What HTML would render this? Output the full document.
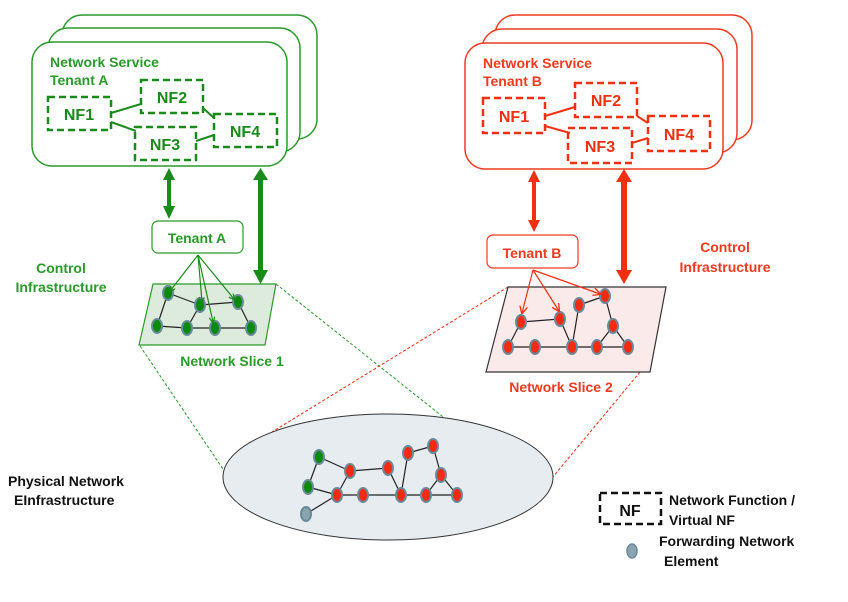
<!DOCTYPE html>
<html><head><meta charset="utf-8"><style>
html,body{margin:0;padding:0;background:#fff;}
svg{display:block;}
text{font-family:"Liberation Sans",Arial,sans-serif;font-weight:bold;}
</style></head><body>
<svg width="848" height="602" viewBox="0 0 848 602" xmlns="http://www.w3.org/2000/svg">
<defs>
<marker id="ga" markerWidth="6" markerHeight="6" refX="5" refY="3" orient="auto" markerUnits="userSpaceOnUse"><path d="M0,0 L6,3 L0,6" fill="none" stroke="#1a8a1a" stroke-width="1.3"/></marker>
<marker id="ra" markerWidth="8" markerHeight="8" refX="7" refY="4" orient="auto" markerUnits="userSpaceOnUse"><path d="M0,0 L8,4 L0,8" fill="none" stroke="#f03010" stroke-width="1.3"/></marker>
</defs>

<!-- Green tenant stacks -->
<g fill="#fff" stroke="#2a9a2a" stroke-width="1.5">
<rect x="62" y="15" width="255" height="124" rx="20"/>
<rect x="48" y="28" width="252" height="124" rx="20"/>
<rect x="32" y="42" width="255" height="124" rx="20"/>
</g>
<text x="50" y="67" font-size="14" fill="#2a9a2a">Network Service</text>
<text x="50" y="85" font-size="14" fill="#2a9a2a">Tenant A</text>
<g fill="none" stroke="#1a8a1a" stroke-width="2.5" stroke-dasharray="7,4">
<rect x="48" y="97" width="63" height="33"/>
<rect x="141" y="80" width="62" height="33"/>
<rect x="135" y="127" width="61" height="33"/>
<rect x="214" y="114" width="63" height="33"/>
</g>
<g stroke="#1a8a1a" stroke-width="2">
<line x1="111" y1="113" x2="141" y2="104"/><line x1="111" y1="122" x2="136" y2="131"/>
<line x1="203" y1="108" x2="214" y2="118"/><line x1="196" y1="141" x2="214" y2="135"/>
</g>
<g font-size="16" fill="#1a8a1a" text-anchor="middle">
<text x="79" y="120">NF1</text><text x="172" y="103">NF2</text><text x="165" y="150">NF3</text><text x="245" y="137">NF4</text>
</g>

<!-- Red tenant stacks -->
<g fill="#fff" stroke="#f03a20" stroke-width="1.5">
<rect x="495" y="15" width="257" height="125" rx="20"/>
<rect x="482" y="29" width="255" height="124" rx="20"/>
<rect x="465" y="43" width="258" height="126" rx="20"/>
</g>
<text x="483" y="68" font-size="14" fill="#f03a20">Network Service</text>
<text x="483" y="86" font-size="14" fill="#f03a20">Tenant B</text>
<g fill="none" stroke="#f03010" stroke-width="2.5" stroke-dasharray="7,4">
<rect x="483" y="98" width="62" height="35"/>
<rect x="575" y="83" width="62" height="34"/>
<rect x="568" y="128" width="64" height="35"/>
<rect x="648" y="116" width="62" height="35"/>
</g>
<g stroke="#f03010" stroke-width="2">
<line x1="545" y1="116" x2="575" y2="107"/><line x1="545" y1="126" x2="570" y2="133"/>
<line x1="637" y1="116" x2="648" y2="123"/><line x1="632" y1="143" x2="648" y2="138"/>
</g>
<g font-size="16" fill="#f03010" text-anchor="middle">
<text x="514" y="122">NF1</text><text x="606" y="106">NF2</text><text x="600" y="152">NF3</text><text x="679" y="140">NF4</text>
</g>

<!-- Double arrows -->
<g fill="#1a8a1a">
<rect x="167" y="178" width="4" height="30"/><path d="M163,180 L169,168 L175,180Z"/><path d="M163,206 L169,219 L175,206Z"/>
<rect x="258" y="178" width="5" height="95"/><path d="M253,180 L260.5,168 L268,180Z"/><path d="M253,270 L260.5,284 L268,270Z"/>
</g>
<g fill="#f03010">
<rect x="532" y="180" width="4" height="42"/><path d="M528,182 L534,170 L540,182Z"/><path d="M528,220 L534,232 L540,220Z"/>
<rect x="621" y="180" width="6" height="92"/><path d="M616,182 L624,169 L632,182Z"/><path d="M616,270 L624,284 L632,270Z"/>
</g>

<!-- Dashed zoom lines -->
<g stroke-width="1" stroke-dasharray="3,2" fill="none">
<line x1="140" y1="346" x2="229" y2="478" stroke="#2a9a2a"/>
<line x1="276" y1="284" x2="462" y2="432" stroke="#2a9a2a"/>
<line x1="508" y1="287" x2="272" y2="432" stroke="#f03010"/>
<line x1="640" y1="372" x2="552" y2="478" stroke="#f03010"/>
</g>

<!-- Slice 1 -->
<path d="M153,284 L276,284 L265,345 L139,345Z" fill="#dcebdc" stroke="#2a9a2a" stroke-width="1.2"/>
<g stroke="#222" stroke-width="1.2">
<line x1="168" y1="293" x2="200" y2="305"/><line x1="168" y1="293" x2="157" y2="326"/>
<line x1="200" y1="305" x2="238" y2="302"/><line x1="200" y1="305" x2="187" y2="328"/>
<line x1="157" y1="326" x2="187" y2="328"/><line x1="187" y1="328" x2="215" y2="328"/>
<line x1="215" y1="328" x2="251" y2="328"/><line x1="238" y1="302" x2="251" y2="328"/>
</g>
<g fill="#0a8a0a" stroke="#6a8a9a" stroke-width="2">
<ellipse cx="168" cy="293" rx="5" ry="7"/><ellipse cx="200" cy="305" rx="5" ry="7"/><ellipse cx="238" cy="302" rx="5" ry="7"/>
<ellipse cx="157" cy="326" rx="5" ry="7"/><ellipse cx="187" cy="328" rx="5" ry="7"/><ellipse cx="215" cy="328" rx="5" ry="7"/><ellipse cx="251" cy="328" rx="5" ry="7"/>
</g>
<rect x="152" y="221" width="91" height="32" rx="6" fill="#fff" stroke="#2a9a2a" stroke-width="1.2"/>
<text x="197" y="243" font-size="14" fill="#2a9a2a" text-anchor="middle">Tenant A</text>
<g stroke="#1a8a1a" stroke-width="1.2" marker-end="url(#ga)">
<line x1="198" y1="255" x2="170" y2="291"/><line x1="198" y1="255" x2="213" y2="322"/><line x1="198" y1="255" x2="234" y2="299"/><line x1="198" y1="255" x2="202" y2="302"/>
</g>
<text x="232" y="366" font-size="14" fill="#2a9a2a" text-anchor="middle">Network Slice 1</text>

<!-- Slice 2 -->
<path d="M508,287 L666,287 L650,372 L486,372Z" fill="#fbeaea" stroke="#333" stroke-width="1.2"/>
<g stroke="#222" stroke-width="1.2">
<line x1="521" y1="322" x2="560" y2="319"/><line x1="521" y1="322" x2="508" y2="347"/>
<line x1="508" y1="347" x2="535" y2="347"/><line x1="535" y1="347" x2="572" y2="347"/>
<line x1="560" y1="319" x2="572" y2="347"/><line x1="579" y1="305" x2="572" y2="347"/>
<line x1="579" y1="305" x2="605" y2="296"/><line x1="605" y1="296" x2="613" y2="326"/>
<line x1="572" y1="347" x2="597" y2="347"/><line x1="597" y1="347" x2="628" y2="347"/>
<line x1="613" y1="326" x2="597" y2="347"/><line x1="613" y1="326" x2="628" y2="347"/>
</g>
<g fill="#f52a10" stroke="#6a8a9a" stroke-width="2">
<ellipse cx="521" cy="322" rx="5" ry="7"/><ellipse cx="560" cy="319" rx="5" ry="7"/><ellipse cx="579" cy="305" rx="5" ry="7"/>
<ellipse cx="605" cy="296" rx="5" ry="7"/><ellipse cx="613" cy="326" rx="5" ry="7"/><ellipse cx="508" cy="347" rx="5" ry="7"/>
<ellipse cx="535" cy="347" rx="5" ry="7"/><ellipse cx="572" cy="347" rx="5" ry="7"/><ellipse cx="597" cy="347" rx="5" ry="7"/><ellipse cx="628" cy="347" rx="5" ry="7"/>
</g>
<rect x="487" y="235" width="91" height="33" rx="6" fill="#fff" stroke="#f03a20" stroke-width="1.2"/>
<text x="532" y="258" font-size="14" fill="#f03a20" text-anchor="middle">Tenant B</text>
<g stroke="#f03010" stroke-width="1.2" marker-end="url(#ra)">
<line x1="533" y1="270" x2="522" y2="313"/><line x1="533" y1="270" x2="559" y2="311"/><line x1="533" y1="270" x2="600" y2="294"/>
</g>
<text x="561" y="392" font-size="14" fill="#f03a20" text-anchor="middle">Network Slice 2</text>

<!-- Physical -->
<ellipse cx="388" cy="477" rx="165" ry="63" fill="#e6ecef" stroke="#333" stroke-width="1"/>
<g stroke="#222" stroke-width="1.2">
<line x1="319" y1="457" x2="308" y2="487"/><line x1="319" y1="457" x2="350" y2="471"/>
<line x1="308" y1="487" x2="337" y2="495"/><line x1="306" y1="514" x2="337" y2="495"/>
<line x1="350" y1="471" x2="337" y2="495"/><line x1="350" y1="471" x2="388" y2="468"/>
<line x1="337" y1="495" x2="363" y2="495"/><line x1="363" y1="495" x2="401" y2="495"/>
<line x1="388" y1="468" x2="401" y2="495"/><line x1="401" y1="495" x2="408" y2="453"/>
<line x1="408" y1="453" x2="433" y2="446"/><line x1="433" y1="446" x2="441" y2="475"/>
<line x1="441" y1="475" x2="426" y2="495"/><line x1="441" y1="475" x2="457" y2="495"/>
<line x1="401" y1="495" x2="426" y2="495"/><line x1="426" y1="495" x2="457" y2="495"/>
</g>
<g stroke="#6a8a9a" stroke-width="2">
<ellipse cx="319" cy="457" rx="5" ry="7" fill="#0a8a0a"/><ellipse cx="308" cy="487" rx="5" ry="7" fill="#0a8a0a"/>
<ellipse cx="306" cy="514" rx="5" ry="7" fill="#8aa4b0"/>
<g fill="#f52a10">
<ellipse cx="350" cy="471" rx="5" ry="7"/><ellipse cx="337" cy="495" rx="5" ry="7"/><ellipse cx="363" cy="495" rx="5" ry="7"/>
<ellipse cx="388" cy="468" rx="5" ry="7"/><ellipse cx="401" cy="495" rx="5" ry="7"/><ellipse cx="408" cy="453" rx="5" ry="7"/>
<ellipse cx="433" cy="446" rx="5" ry="7"/><ellipse cx="441" cy="475" rx="5" ry="7"/><ellipse cx="426" cy="495" rx="5" ry="7"/><ellipse cx="457" cy="495" rx="5" ry="7"/>
</g>
</g>

<!-- Labels -->
<g font-size="14" fill="#2a9a2a" text-anchor="middle">
<text x="61" y="273">Control</text><text x="61" y="292">Infrastructure</text>
</g>
<g font-size="14" fill="#f03a20" text-anchor="middle">
<text x="725" y="252">Control</text><text x="725" y="272">Infrastructure</text>
</g>
<text x="8" y="486" font-size="14" fill="#111">Physical Network</text>
<text x="14" y="505" font-size="14" fill="#111">EInfrastructure</text>

<!-- Legend -->
<rect x="600" y="493" width="61" height="31" fill="none" stroke="#111" stroke-width="2.5" stroke-dasharray="7,4"/>
<text x="630" y="516" font-size="16" fill="#111" text-anchor="middle">NF</text>
<text x="669" y="505" font-size="14" fill="#111">Network Function /</text>
<text x="669" y="525" font-size="14" fill="#111">Virtual NF</text>
<ellipse cx="632" cy="551" rx="5" ry="7" fill="#8aa4b0" stroke="#6a8a9a" stroke-width="1.5"/>
<text x="659" y="546" font-size="14" fill="#111">Forwarding Network</text>
<text x="664" y="566" font-size="14" fill="#111">Element</text>
</svg>
</body></html>
